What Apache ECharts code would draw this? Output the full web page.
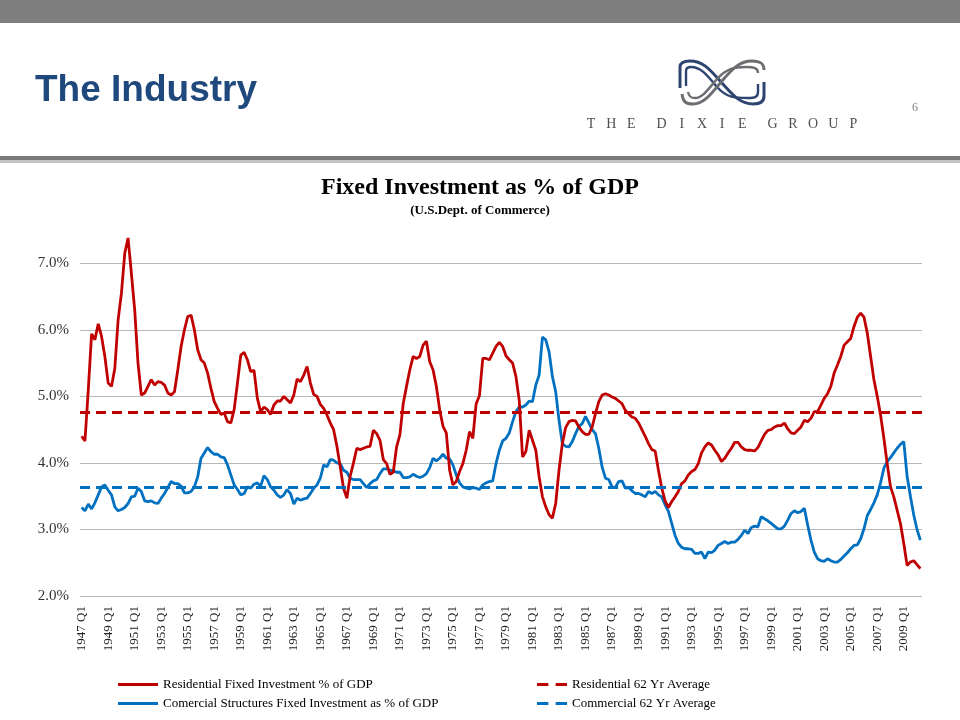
<!DOCTYPE html>
<html>
<head>
<meta charset="utf-8">
<script src="https://cdn.jsdelivr.net/npm/echarts@6/dist/echarts.min.js"></script>
<style>html,body{margin:0;padding:0;background:#fff}#c{width:960px;height:720px}</style>
</head>
<body>
<div id="c"></div>
<script>
// Quarterly categories 1947 Q1 .. 2010 Q2
const startYear = 1947;
const pointCount = 254;
const categories = [];
for (let i = 0; i < pointCount; i++) {
  categories.push((startYear + Math.floor(i / 4)) + ' Q' + (i % 4 + 1));
}

// Residential fixed investment, % of GDP
const residential = [
  4.40,4.33,5.10,5.94,5.85,6.09,5.90,5.60,5.20,5.15,
  5.42,6.15,6.55,7.15,7.38,6.85,6.30,5.50,5.02,5.05,
  5.15,5.25,5.17,5.22,5.21,5.17,5.05,5.02,5.07,5.40,
  5.75,6.00,6.20,6.22,6.00,5.70,5.55,5.50,5.35,5.12,
  4.92,4.82,4.73,4.75,4.62,4.60,4.80,5.20,5.62,5.66,
  5.55,5.37,5.39,4.97,4.77,4.84,4.80,4.73,4.87,4.93,
  4.93,5.00,4.95,4.90,5.02,5.26,5.22,5.32,5.45,5.20,
  5.03,5.00,4.88,4.82,4.72,4.60,4.50,4.25,3.94,3.62,
  3.47,3.80,4.00,4.22,4.20,4.22,4.24,4.25,4.49,4.44,
  4.34,4.05,3.99,3.83,3.86,4.24,4.42,4.89,5.15,5.40,
  5.60,5.57,5.60,5.77,5.83,5.52,5.40,5.15,4.80,4.55,
  4.45,3.89,3.67,3.72,3.87,3.99,4.19,4.47,4.37,4.89,
  5.01,5.57,5.57,5.55,5.65,5.75,5.81,5.75,5.61,5.55,
  5.50,5.30,4.94,4.09,4.17,4.49,4.34,4.19,3.79,3.49,
  3.34,3.22,3.17,3.39,3.89,4.29,4.53,4.62,4.64,4.63,
  4.54,4.47,4.43,4.43,4.54,4.74,4.92,5.02,5.04,5.02,
  4.99,4.97,4.93,4.89,4.79,4.74,4.69,4.67,4.60,4.50,
  4.40,4.29,4.20,4.18,3.89,3.62,3.43,3.33,3.42,3.49,
  3.57,3.69,3.73,3.82,3.87,3.90,3.99,4.15,4.24,4.30,
  4.27,4.19,4.12,4.02,4.07,4.15,4.22,4.31,4.31,4.24,
  4.20,4.19,4.19,4.18,4.23,4.33,4.43,4.49,4.50,4.54,
  4.56,4.56,4.60,4.51,4.45,4.44,4.49,4.54,4.64,4.62,
  4.67,4.77,4.77,4.87,4.97,5.04,5.15,5.35,5.47,5.60,
  5.77,5.82,5.87,6.05,6.19,6.25,6.19,5.95,5.60,5.25,
  5.00,4.72,4.37,3.99,3.64,3.49,3.29,3.09,2.79,2.46,
  2.51,2.53,2.47,2.41
];

// Commercial structures fixed investment, % of GDP
const commercial = [
  3.33,3.28,3.38,3.31,3.40,3.52,3.64,3.67,3.59,3.52,
  3.34,3.28,3.30,3.33,3.39,3.49,3.50,3.62,3.57,3.43,
  3.42,3.43,3.40,3.39,3.47,3.54,3.63,3.72,3.69,3.69,
  3.65,3.55,3.55,3.57,3.64,3.79,4.07,4.15,4.23,4.17,
  4.13,4.13,4.09,4.08,3.97,3.82,3.67,3.60,3.52,3.54,
  3.64,3.62,3.68,3.70,3.65,3.81,3.75,3.64,3.59,3.52,
  3.48,3.52,3.60,3.54,3.38,3.47,3.44,3.46,3.47,3.54,
  3.62,3.67,3.77,3.97,3.94,4.05,4.04,4.00,3.99,3.89,
  3.86,3.77,3.75,3.75,3.75,3.69,3.63,3.69,3.73,3.75,
  3.84,3.91,3.91,3.89,3.88,3.86,3.86,3.78,3.78,3.79,
  3.83,3.80,3.78,3.80,3.84,3.93,4.07,4.03,4.07,4.13,
  4.07,4.06,3.97,3.82,3.70,3.64,3.62,3.61,3.63,3.62,
  3.60,3.67,3.70,3.72,3.73,3.99,4.19,4.33,4.37,4.45,
  4.62,4.77,4.84,4.84,4.87,4.93,4.92,5.17,5.32,5.89,
  5.85,5.67,5.30,5.07,4.64,4.29,4.25,4.24,4.32,4.44,
  4.55,4.59,4.70,4.60,4.50,4.44,4.22,3.94,3.77,3.75,
  3.64,3.63,3.72,3.73,3.62,3.63,3.58,3.54,3.54,3.52,
  3.49,3.57,3.54,3.57,3.52,3.49,3.37,3.27,3.09,2.91,
  2.79,2.73,2.71,2.71,2.70,2.64,2.64,2.66,2.56,2.66,
  2.65,2.69,2.76,2.79,2.82,2.79,2.81,2.81,2.85,2.91,
  2.99,2.94,3.03,3.05,3.04,3.19,3.16,3.13,3.09,3.05,
  3.01,3.01,3.05,3.14,3.24,3.28,3.25,3.27,3.32,3.07,
  2.84,2.66,2.56,2.53,2.52,2.56,2.53,2.51,2.51,2.55,
  2.60,2.65,2.71,2.76,2.77,2.86,3.01,3.21,3.30,3.40,
  3.52,3.70,3.92,4.02,4.08,4.15,4.22,4.28,4.32,3.80,
  3.50,3.22,3.00,2.84
];

// 62-year averages
const residentialAvg = 4.76;
const commercialAvg = 3.64;

const yTicks = [2, 3, 4, 5, 6, 7];

const RED = '#C00000';
const BLUE = '#0070C0';
const SERIF = '"Liberation Serif","Times New Roman",serif';
const SOLID_ICON = 'path://M0,0 H40 V3 H0 Z';
const DASH_ICON = 'path://M0,0 H11 V3 H0 Z M18,0 H29 V3 H18 Z';

const chart = echarts.init(document.getElementById('c'), null, {renderer: 'canvas'});

// Letter-spaced logo wordmark
const word = 'THE DIXIE GROUP';
const wordmark = [];
let wx = 591;
for (let k = 0; k < word.length; k++) {
  const ch = word[k];
  if (ch === ' ') { wx += 10; continue; }
  wordmark.push({type: 'text', x: wx, y: 124, style: {text: ch, fill: '#505050', font: '14px ' + SERIF, textAlign: 'center', textVerticalAlign: 'middle'}});
  wx += 20.2;
}

// Logo strokes (decorative)
function bz(p, color, w) {
  return {type: 'bezierCurve', shape: {x1: p[0], y1: p[1], cpx1: p[2], cpy1: p[3], cpx2: p[4], cpy2: p[5], x2: p[6], y2: p[7]},
    style: {fill: null, stroke: color, lineWidth: w}};
}
function ln(p, color, w) {
  return {type: 'line', shape: {x1: p[0], y1: p[1], x2: p[2], y2: p[3]}, style: {stroke: color, lineWidth: w}};
}
const NAVY = '#2e4470', GREY = '#6d6e71';
const logo = [
  ln([680, 88, 680, 67], NAVY, 3),
  bz([680, 67, 680, 62, 684, 61, 690, 61], NAVY, 3),
  bz([690, 61, 704, 61, 711, 71, 722, 83], NAVY, 3),
  bz([722, 83, 733, 95, 740, 104, 753, 104], NAVY, 3),
  bz([753, 104, 760, 104, 764, 102, 764, 96], NAVY, 3),
  ln([764, 96, 764, 82], NAVY, 3),
  ln([686, 86, 686, 71], NAVY, 2.4),
  bz([686, 71, 686, 68, 688, 67, 691, 67], NAVY, 2.4),
  bz([691, 67, 701, 67, 707, 75, 717, 87], NAVY, 2.4),
  bz([717, 87, 727, 98, 735, 98, 748, 98], NAVY, 2.4),
  bz([748, 98, 755, 98, 758, 97, 758, 92], NAVY, 2.4),
  ln([758, 92, 758, 84], NAVY, 2.4),
  bz([682, 94, 683, 102, 686, 104, 693, 104], GREY, 3),
  bz([693, 104, 704, 104, 711, 94, 722, 81], GREY, 3),
  bz([722, 81, 733, 68, 740, 61, 752, 61], GREY, 3),
  bz([752, 61, 760, 61, 764, 63, 764, 70], GREY, 3),
  bz([688, 92, 689, 97, 691, 98, 695, 98], GREY, 2.4),
  bz([695, 98, 703, 98, 709, 88, 717, 79], GREY, 2.4),
  bz([717, 79, 727, 68, 735, 67, 746, 67], GREY, 2.4),
  bz([746, 67, 754, 67, 758, 68, 758, 73], GREY, 2.4)
];

const option = {
  animation: false,
  backgroundColor: '#ffffff',
  title: {
    text: 'Fixed Investment as % of GDP',
    subtext: '(U.S.Dept. of Commerce)',
    left: 'center',
    top: 171,
    itemGap: 4,
    textStyle: {fontFamily: SERIF, fontSize: 24, fontWeight: 'bold', color: '#000'},
    subtextStyle: {fontFamily: SERIF, fontSize: 13, fontWeight: 'bold', color: '#000'}
  },
  grid: {left: 80, right: 38, top: 230, bottom: 124, containLabel: false},
  xAxis: {
    type: 'category',
    data: categories,
    boundaryGap: true,
    axisLine: {show: false},
    axisTick: {show: false},
    splitLine: {show: false},
    axisLabel: {
      interval: 7, rotate: 90, margin: 10,
      fontFamily: SERIF, fontSize: 13, color: '#222'
    }
  },
  yAxis: {
    type: 'value',
    min: 2, max: 7.5, interval: 0.5,
    axisLine: {show: false},
    axisTick: {show: false},
    axisLabel: {
      margin: 11, fontFamily: SERIF, fontSize: 15, color: '#333',
      formatter: v => yTicks.some(t => Math.abs(t - v) < 1e-6) ? v.toFixed(1) + '%' : ''
    },
    splitLine: {show: true, lineStyle: {color: ['#b8b8b8', 'rgba(0,0,0,0)'], width: 1.2}}
  },
  legend: [
    {
      data: [
        {name: 'Residential Fixed Investment % of GDP', icon: SOLID_ICON},
        {name: 'Comercial Structures Fixed Investment as % of GDP', icon: SOLID_ICON}
      ],
      orient: 'vertical', left: 113, top: 673, itemGap: 6, itemWidth: 40, itemHeight: 14,
      textStyle: {fontFamily: SERIF, fontSize: 13, color: '#000'}
    },
    {
      data: [
        {name: 'Residential 62 Yr Average', icon: DASH_ICON},
        {name: 'Commercial 62 Yr Average', icon: DASH_ICON}
      ],
      orient: 'vertical', left: 532, top: 673, itemGap: 6, itemWidth: 30, itemHeight: 14,
      textStyle: {fontFamily: SERIF, fontSize: 13, color: '#000'}
    }
  ],
  series: [
    {
      name: 'Residential Fixed Investment % of GDP', type: 'line', data: residential,
      showSymbol: false, symbol: 'none', lineStyle: {color: RED, width: 2.8}, itemStyle: {color: RED}, z: 4
    },
    {
      name: 'Comercial Structures Fixed Investment as % of GDP', type: 'line', data: commercial,
      showSymbol: false, symbol: 'none', lineStyle: {color: BLUE, width: 2.8}, itemStyle: {color: BLUE}, z: 3
    },
    {
      name: 'Residential 62 Yr Average', type: 'line', data: [], symbol: 'none',
      lineStyle: {color: RED, width: 2.8, type: [10, 6]}, itemStyle: {color: RED}, z: 2,
      markLine: {silent: true, symbol: 'none', label: {show: false},
        lineStyle: {color: RED, width: 2.8, type: [10, 6]}, data: [{yAxis: residentialAvg}]}
    },
    {
      name: 'Commercial 62 Yr Average', type: 'line', data: [], symbol: 'none',
      lineStyle: {color: BLUE, width: 2.8, type: [10, 6]}, itemStyle: {color: BLUE}, z: 2,
      markLine: {silent: true, symbol: 'none', label: {show: false},
        lineStyle: {color: BLUE, width: 2.8, type: [10, 6]}, data: [{yAxis: commercialAvg}]}
    }
  ],
  graphic: [
    {type: 'rect', shape: {x: 0, y: 0, width: 960, height: 23}, style: {fill: '#7f7f7f'}},
    {type: 'rect', shape: {x: 0, y: 156, width: 960, height: 4}, style: {fill: '#7a7a7a'}},
    {type: 'rect', shape: {x: 0, y: 160, width: 960, height: 3}, style: {fill: '#c4c4c4'}},
    {type: 'text', x: 35, y: 91, style: {text: 'The Industry', fill: '#1f497d', font: 'bold 37px "Liberation Sans", Arial, sans-serif', textVerticalAlign: 'middle'}},
    {type: 'text', x: 915, y: 108, style: {text: '6', fill: '#7f7f7f', font: '12px ' + SERIF, textAlign: 'center', textVerticalAlign: 'middle'}}
  ].concat(logo).concat(wordmark)
};

chart.setOption(option);
</script>
</body>
</html>
